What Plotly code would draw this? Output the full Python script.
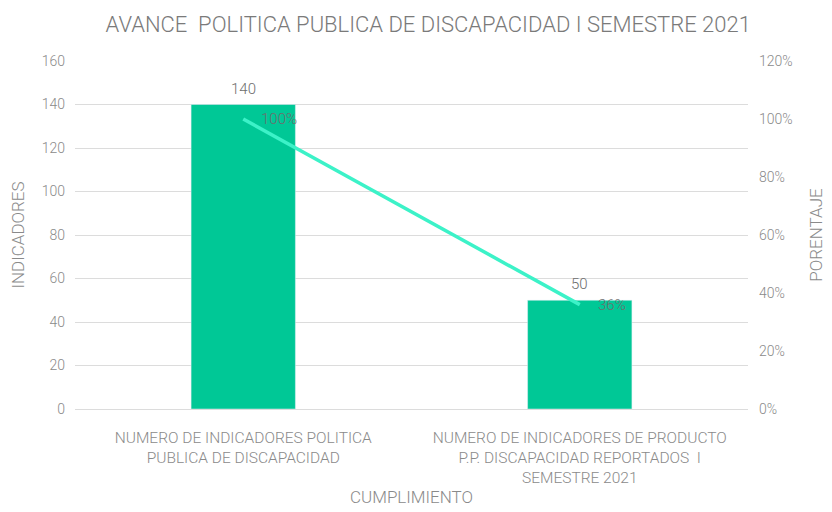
import plotly.graph_objects as go

categories = [
    "NUMERO DE INDICADORES POLITICA<br>PUBLICA DE DISCAPACIDAD",
    "NUMERO DE INDICADORES DE PRODUCTO<br>P.P. DISCAPACIDAD REPORTADOS  I<br>SEMESTRE 2021",
]
indicadores = [140, 50]
porcentaje = [1.00, 0.36]
pct_labels = ["100%", "36%"]

FONT = "Roboto, sans-serif"
GRAY = "#8a8a8a"
LABEL = "#6e6e6e"

fig = go.Figure()
fig.add_trace(go.Bar(
    x=categories, y=indicadores, marker_color="#00C896",
    name="INDICADORES", width=0.31,
))
fig.add_trace(go.Scatter(
    x=categories, y=porcentaje, yaxis="y2", mode="lines",
    line=dict(color="#3CF2C8", width=3.5),
    cliponaxis=False, name="PORCENTAJE",
))

annotations = []
for c, v in zip(categories, indicadores):
    annotations.append(dict(x=c, y=v, xref="x", yref="y", text=str(v), showarrow=False,
                            yanchor="bottom", yshift=5,
                            font=dict(family=FONT, size=15, color=LABEL, weight=300)))
for c, p, t in zip(categories, porcentaje, pct_labels):
    annotations.append(dict(x=c, y=p, xref="x", yref="y2", text=t, showarrow=False,
                            xanchor="left", xshift=16, yshift=0,
                            font=dict(family=FONT, size=15, color=LABEL, weight=300)))

fig.update_layout(
    width=824, height=504,
    margin=dict(l=67, r=84, t=53, b=103),
    paper_bgcolor="white", plot_bgcolor="white",
    showlegend=False,
    annotations=annotations,
    font=dict(family=FONT, color=GRAY, size=15, weight=300),
    title=dict(text="AVANCE  POLITICA PUBLICA DE DISCAPACIDAD I SEMESTRE 2021",
               x=0.51, xanchor="center", y=0.968, yanchor="middle",
               font=dict(family=FONT, size=22, color="#7a7a7a", weight=300)),
    xaxis=dict(title=dict(text="CUMPLIMIENTO", font=dict(size=17, color=GRAY, weight=300), standoff=2),
               tickfont=dict(size=15.5, color=GRAY, weight=300), showline=False, ticks="",
               ticklabelstandoff=17, automargin=False),
    yaxis=dict(range=[0, 160], dtick=20, showgrid=True, gridcolor="#dcdcdc", gridwidth=1,
               zeroline=True, zerolinecolor="#dcdcdc", zerolinewidth=1,
               title=dict(text="INDICADORES", font=dict(size=17, color=GRAY, weight=300), standoff=13),
               tickfont=dict(size=14, color=GRAY, weight=300), ticks="", ticklabelstandoff=9,
               automargin=False),
    yaxis2=dict(range=[0, 1.2], dtick=0.2, tickformat=".0%", overlaying="y", side="right",
                showgrid=False, zeroline=False,
                title=dict(text="PORENTAJE", font=dict(size=17, color=GRAY, weight=300), standoff=18),
                tickfont=dict(size=14, color=GRAY, weight=300), ticks="", ticklabelstandoff=10,
                automargin=False),
)

fig.write_html("out.html")
